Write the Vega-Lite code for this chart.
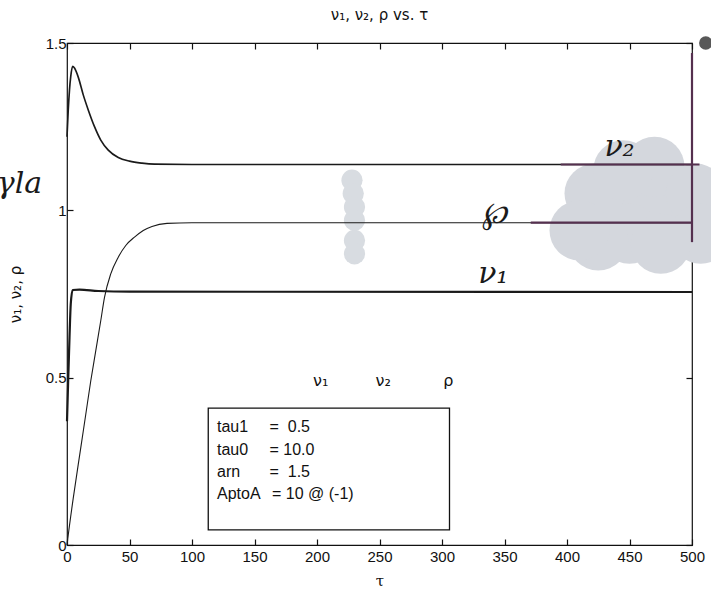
{
  "$schema": "https://vega.github.io/schema/vega-lite/v6.json",
  "width": 625,
  "height": 502,
  "autosize": {"type": "none"},
  "padding": {"left": 67, "top": 43, "right": 19, "bottom": 54},
  "background": "white",
  "config": {
    "font": "Liberation Sans",
    "view": {"stroke": "#111", "strokeWidth": 1.2},
    "axis": {"grid": false, "domain": false, "labelFlush": false, "tickColor": "#111", "labelColor": "#111", "titleColor": "#111", "labelFont": "Liberation Sans", "titleFont": "DejaVu Serif", "titleFontWeight": "normal"}
  },
  "title": {"text": "ν₁, ν₂, ρ vs. τ", "fontSize": 15, "fontWeight": "normal", "font": "DejaVu Sans", "color": "#111", "anchor": "middle", "offset": 13},
  "datasets": {
    "curves": [
      {"series": "v2", "tau": 0, "value": 1.22},
      {"series": "v2", "tau": 1, "value": 1.30},
      {"series": "v2", "tau": 2, "value": 1.36},
      {"series": "v2", "tau": 3, "value": 1.40},
      {"series": "v2", "tau": 4.5, "value": 1.43},
      {"series": "v2", "tau": 6, "value": 1.425},
      {"series": "v2", "tau": 9, "value": 1.398},
      {"series": "v2", "tau": 13, "value": 1.345},
      {"series": "v2", "tau": 17, "value": 1.30},
      {"series": "v2", "tau": 22, "value": 1.25},
      {"series": "v2", "tau": 27, "value": 1.21},
      {"series": "v2", "tau": 33, "value": 1.18},
      {"series": "v2", "tau": 41, "value": 1.158},
      {"series": "v2", "tau": 50, "value": 1.147},
      {"series": "v2", "tau": 60, "value": 1.141},
      {"series": "v2", "tau": 70, "value": 1.138},
      {"series": "v2", "tau": 100, "value": 1.137},
      {"series": "v2", "tau": 500, "value": 1.137},
      {"series": "rho", "tau": 0, "value": 0.0},
      {"series": "rho", "tau": 1, "value": 0.03},
      {"series": "rho", "tau": 5, "value": 0.14},
      {"series": "rho", "tau": 11, "value": 0.29},
      {"series": "rho", "tau": 15, "value": 0.39},
      {"series": "rho", "tau": 19, "value": 0.49},
      {"series": "rho", "tau": 23, "value": 0.58},
      {"series": "rho", "tau": 27, "value": 0.67},
      {"series": "rho", "tau": 30, "value": 0.74},
      {"series": "rho", "tau": 35, "value": 0.81},
      {"series": "rho", "tau": 41, "value": 0.86},
      {"series": "rho", "tau": 47, "value": 0.895},
      {"series": "rho", "tau": 54, "value": 0.92},
      {"series": "rho", "tau": 61, "value": 0.94},
      {"series": "rho", "tau": 68, "value": 0.952},
      {"series": "rho", "tau": 80, "value": 0.961},
      {"series": "rho", "tau": 100, "value": 0.963},
      {"series": "rho", "tau": 500, "value": 0.963},
      {"series": "v1", "tau": 0, "value": 0.37},
      {"series": "v1", "tau": 1, "value": 0.5},
      {"series": "v1", "tau": 2, "value": 0.62},
      {"series": "v1", "tau": 3, "value": 0.72},
      {"series": "v1", "tau": 4.5, "value": 0.762},
      {"series": "v1", "tau": 10, "value": 0.763},
      {"series": "v1", "tau": 25, "value": 0.759},
      {"series": "v1", "tau": 50, "value": 0.757},
      {"series": "v1", "tau": 500, "value": 0.756}
    ],
    "pen": [
      {"seg": "a", "tau": 395, "value": 1.137},
      {"seg": "a", "tau": 506, "value": 1.137},
      {"seg": "b", "tau": 371, "value": 0.963},
      {"seg": "b", "tau": 500, "value": 0.963},
      {"seg": "c", "tau": 500, "value": 1.47},
      {"seg": "c", "tau": 500, "value": 0.905}
    ],
    "bigblob": [
      {"tau": 440, "value": 1.02},
      {"tau": 462, "value": 1.07},
      {"tau": 485, "value": 1.0},
      {"tau": 470, "value": 1.13},
      {"tau": 450, "value": 0.93},
      {"tau": 425, "value": 0.91},
      {"tau": 422, "value": 1.05},
      {"tau": 410, "value": 0.94},
      {"tau": 503, "value": 1.05},
      {"tau": 507, "value": 0.93},
      {"tau": 475, "value": 0.9},
      {"tau": 445, "value": 1.12}
    ],
    "smallblob": [
      {"tau": 228, "value": 1.09},
      {"tau": 229, "value": 1.05},
      {"tau": 230, "value": 1.01},
      {"tau": 230, "value": 0.97},
      {"tau": 230, "value": 0.91},
      {"tau": 230, "value": 0.87}
    ],
    "legendlabels": [
      {"label": "ν₁", "tau": 203, "value": 0.49},
      {"label": "ν₂", "tau": 253, "value": 0.49},
      {"label": "ρ", "tau": 305, "value": 0.49}
    ],
    "box": [{"t1": 113, "t2": 306, "v1": 0.045, "v2": 0.409}],
    "boxnames": [
      {"txt": "tau1", "tau": 120, "value": 0.353},
      {"txt": "tau0", "tau": 120, "value": 0.285},
      {"txt": "arn", "tau": 120, "value": 0.218},
      {"txt": "AptoA", "tau": 120, "value": 0.151}
    ],
    "boxvals": [
      {"txt": "=\u00a0\u00a00.5", "tau": 162, "value": 0.353},
      {"txt": "=\u00a010.0", "tau": 162, "value": 0.285},
      {"txt": "=\u00a0\u00a01.5", "tau": 162, "value": 0.218},
      {"txt": "=\u00a010 @ (-1)", "tau": 164, "value": 0.151}
    ],
    "hand": [
      {"txt": "ν₂", "tau": 442, "value": 1.19},
      {"txt": "℘", "tau": 342, "value": 0.99},
      {"txt": "ν₁", "tau": 341, "value": 0.81},
      {"txt": "γla", "tau": -38, "value": 1.08}
    ],
    "dot": [{"tau": 511, "value": 1.5}]
  },
  "resolve": {"axis": {"x": "independent", "y": "independent"}},
  "layer": [
    {
      "data": {"name": "bigblob"},
      "mark": {"type": "point", "filled": true, "shape": "circle", "size": 3600, "color": "#d4d7dd", "opacity": 1, "clip": false},
      "encoding": {
        "x": {"field": "tau", "type": "quantitative", "scale": {"domain": [0, 500], "nice": false, "zero": false},
          "axis": {"orient": "bottom", "values": [0, 50, 100, 150, 200, 250, 300, 350, 400, 450, 500], "tickSize": -6, "tickWidth": 1.2, "labelFontSize": 15, "labelPadding": 10, "title": "τ", "titleFontSize": 15, "titlePadding": 9}},
        "y": {"field": "value", "type": "quantitative", "scale": {"domain": [0, 1.5], "nice": false, "zero": false},
          "axis": {"orient": "left", "values": [0, 0.5, 1, 1.5], "format": "~g", "tickSize": -6, "tickWidth": 1.2, "labelFontSize": 15, "labelPadding": 7, "title": "ν₁, ν₂, ρ", "titleFontSize": 15, "titleFont": "DejaVu Sans", "titlePadding": 22}}
      }
    },
    {
      "data": {"name": "smallblob"},
      "mark": {"type": "point", "filled": true, "shape": "circle", "size": 450, "color": "#d8dce1", "opacity": 1},
      "encoding": {
        "x": {"field": "tau", "type": "quantitative", "scale": {"domain": [0, 500], "nice": false, "zero": false}, "axis": {"orient": "top", "values": [0, 50, 100, 150, 200, 250, 300, 350, 400, 450, 500], "tickSize": -6, "tickWidth": 1.2, "labels": false, "title": null}},
        "y": {"field": "value", "type": "quantitative", "scale": {"domain": [0, 1.5], "nice": false, "zero": false}, "axis": {"orient": "right", "values": [0, 0.5, 1, 1.5], "tickSize": -6, "tickWidth": 1.2, "labels": false, "title": null}}
      }
    },
    {
      "data": {"name": "curves"},
      "mark": {"type": "line", "color": "#1a1a1a", "interpolate": "monotone"},
      "encoding": {
        "x": {"field": "tau", "type": "quantitative", "scale": {"domain": [0, 500], "nice": false, "zero": false}, "axis": null},
        "y": {"field": "value", "type": "quantitative", "scale": {"domain": [0, 1.5], "nice": false, "zero": false}, "axis": null},
        "detail": {"field": "series"},
        "strokeWidth": {"field": "series", "type": "nominal", "scale": {"domain": ["v1", "v2", "rho"], "range": [2.2, 1.1, 1.1]}, "legend": null}
      }
    },
    {
      "data": {"name": "pen"},
      "mark": {"type": "line", "color": "#55304f", "strokeWidth": 2.2, "clip": false},
      "encoding": {
        "x": {"field": "tau", "type": "quantitative", "scale": {"domain": [0, 500], "nice": false, "zero": false}, "axis": null},
        "y": {"field": "value", "type": "quantitative", "scale": {"domain": [0, 1.5], "nice": false, "zero": false}, "axis": null},
        "detail": {"field": "seg"}
      }
    },
    {
      "data": {"name": "box"},
      "mark": {"type": "rect", "fill": "white", "stroke": "#111", "strokeWidth": 1.3},
      "encoding": {
        "x": {"field": "t1", "type": "quantitative", "scale": {"domain": [0, 500], "nice": false, "zero": false}, "axis": null},
        "x2": {"field": "t2"},
        "y": {"field": "v1", "type": "quantitative", "scale": {"domain": [0, 1.5], "nice": false, "zero": false}, "axis": null},
        "y2": {"field": "v2"}
      }
    },
    {
      "data": {"name": "boxnames"},
      "mark": {"type": "text", "align": "left", "baseline": "middle", "fontSize": 16, "color": "#111"},
      "encoding": {
        "x": {"field": "tau", "type": "quantitative", "scale": {"domain": [0, 500], "nice": false, "zero": false}, "axis": null},
        "y": {"field": "value", "type": "quantitative", "scale": {"domain": [0, 1.5], "nice": false, "zero": false}, "axis": null},
        "text": {"field": "txt"}
      }
    },
    {
      "data": {"name": "boxvals"},
      "mark": {"type": "text", "align": "left", "baseline": "middle", "fontSize": 16, "color": "#111"},
      "encoding": {
        "x": {"field": "tau", "type": "quantitative", "scale": {"domain": [0, 500], "nice": false, "zero": false}, "axis": null},
        "y": {"field": "value", "type": "quantitative", "scale": {"domain": [0, 1.5], "nice": false, "zero": false}, "axis": null},
        "text": {"field": "txt"}
      }
    },
    {
      "data": {"name": "legendlabels"},
      "mark": {"type": "text", "align": "center", "baseline": "middle", "fontSize": 16, "font": "DejaVu Sans", "color": "#111"},
      "encoding": {
        "x": {"field": "tau", "type": "quantitative", "scale": {"domain": [0, 500], "nice": false, "zero": false}, "axis": null},
        "y": {"field": "value", "type": "quantitative", "scale": {"domain": [0, 1.5], "nice": false, "zero": false}, "axis": null},
        "text": {"field": "label"}
      }
    },
    {
      "data": {"name": "hand"},
      "mark": {"type": "text", "align": "center", "baseline": "middle", "fontSize": 30, "font": "DejaVu Serif", "fontStyle": "italic", "color": "#1a1a1a", "clip": false},
      "encoding": {
        "x": {"field": "tau", "type": "quantitative", "scale": {"domain": [0, 500], "nice": false, "zero": false}, "axis": null},
        "y": {"field": "value", "type": "quantitative", "scale": {"domain": [0, 1.5], "nice": false, "zero": false}, "axis": null},
        "text": {"field": "txt"}
      }
    },
    {
      "data": {"name": "dot"},
      "mark": {"type": "point", "filled": true, "shape": "circle", "size": 180, "color": "#111", "clip": false},
      "encoding": {
        "x": {"field": "tau", "type": "quantitative", "scale": {"domain": [0, 500], "nice": false, "zero": false}, "axis": null},
        "y": {"field": "value", "type": "quantitative", "scale": {"domain": [0, 1.5], "nice": false, "zero": false}, "axis": null}
      }
    }
  ]
}
